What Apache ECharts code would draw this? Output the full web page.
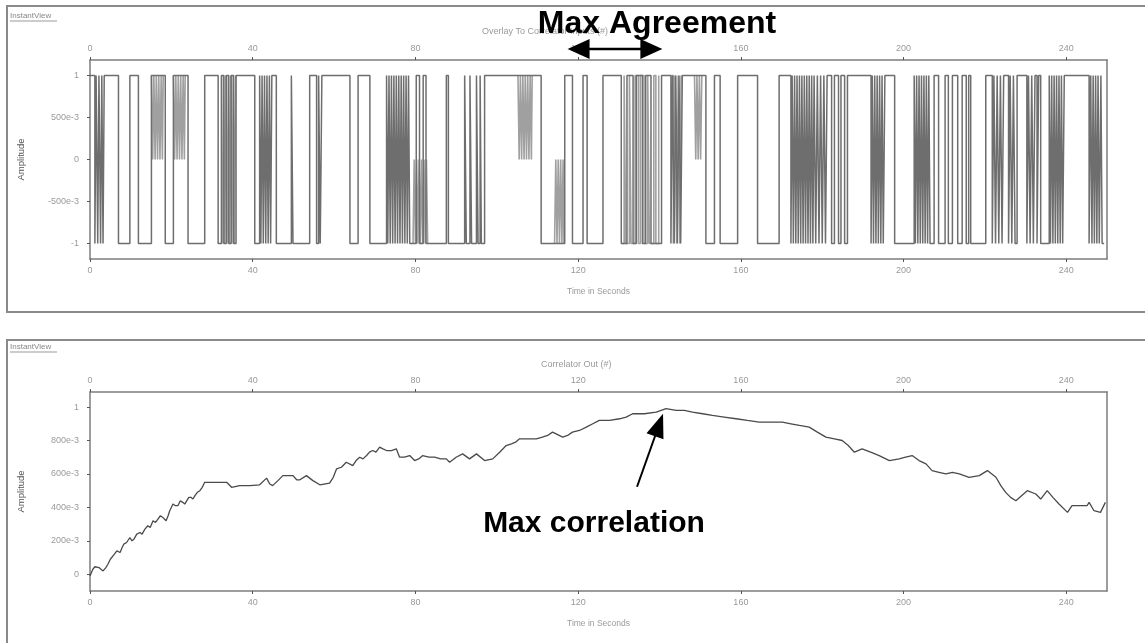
<!DOCTYPE html>
<html>
<head>
<meta charset="utf-8">
<script src="https://cdn.jsdelivr.net/npm/echarts@6/dist/echarts.min.js"></script>
<style>
  html, body { margin: 0; padding: 0; background: #fff; }
  #chart { width: 1145px; height: 643px; }
</style>
</head>
<body>
<div id="chart"></div>
<script>
// Shared time axis (seconds)
const timeTicks = [0, 40, 80, 120, 160, 200, 240];
const timeMax = 250;

// Overlay panel amplitude ticks
const overlayTicks = [-1, -0.5, 0, 0.5, 1];
const overlayTickLabels = ['-1', '-500e-3', '0', '500e-3', '1'];

// Correlator panel amplitude ticks
const corrTicks = [0, 0.2, 0.4, 0.6, 0.8, 1];
const corrTickLabels = ['0', '200e-3', '400e-3', '600e-3', '800e-3', '1'];

// Primary binary sequence: [time, level], held until the next point
const overlayA = [
  [0,1],[1.2,-1],[1.5,1],[1.9,-1],[2.2,1],[2.6,-1],[2.9,1],[3.2,-1],[3.5,1],
  [7.0,-1],[9.8,1],[11.9,-1],
  [15.1,1],[18.5,-1],
  [20.5,1],[24.1,-1],
  [28.2,1],[31.5,-1],
  [32.3,1],[32.9,-1],[33.5,1],[34.1,-1],[34.7,1],[35.3,-1],[35.9,1],
  [40.5,-1],
  [41.7,1],[42.0,-1],[42.3,1],[42.6,-1],[42.9,1],[43.2,-1],[43.5,1],[43.8,-1],[44.1,1],[44.4,-1],[44.7,1],
  [45.8,-1],[49.5,1],[49.9,-1],
  [54.0,1],[55.7,-1],[56.2,1],[56.6,-1],[57.0,1],
  [63.9,-1],[65.9,1],[68.8,-1],
  [72.9,1],[73.2,-1],[73.5,1],[73.8,-1],[74.1,1],[74.4,-1],[74.7,1],[75.0,-1],[75.3,1],[75.6,-1],
  [75.9,1],[76.2,-1],[76.5,1],[76.8,-1],[77.1,1],[77.4,-1],[77.7,1],[78.0,-1],[78.3,1],[78.6,-1],
  [80.2,1],[81.0,-1],[81.9,1],[82.6,-1],
  [87.6,1],[88.1,-1],
  [92.1,1],[92.5,-1],[93.4,1],[93.8,-1],[95.0,1],[95.4,-1],[95.9,1],[96.2,-1],
  [97.0,1],[110.9,-1],
  [116.7,1],[118.6,-1],[121.2,1],[122.2,-1],
  [126.1,1],[130.6,-1],[132.0,1],[133.5,-1],[134.3,1],[135.8,-1],[136.6,1],[137.9,-1],[140.5,1],
  [142.8,-1],[143.2,1],[143.6,-1],[144.0,1],[144.4,-1],[144.8,1],[145.2,-1],[145.6,1],
  [151.4,-1],[153.5,1],[154.9,-1],[159.2,1],[164.1,-1],[169.4,1],
  [172.3,-1],[172.6,1],[172.9,-1],[173.2,1],[173.5,-1],[173.8,1],[174.1,-1],[174.4,1],[174.7,-1],[175.0,1],
  [175.3,-1],[175.6,1],[175.9,-1],[176.2,1],[176.5,-1],[176.8,1],[177.1,-1],[177.4,1],[177.7,-1],[178.0,1],
  [178.4,-1],[178.8,1],[179.2,-1],[179.6,1],[180.0,-1],[180.4,1],[180.8,-1],[181.2,1],
  [182.3,-1],[183.0,1],[184.0,-1],[184.6,1],[185.5,-1],[186.2,1],
  [192.0,-1],[192.3,1],[192.6,-1],[192.9,1],[193.2,-1],[193.5,1],[193.8,-1],[194.1,1],[194.4,-1],[194.7,1],[195.0,-1],[195.4,1],
  [197.8,-1],
  [202.6,1],[202.9,-1],[203.2,1],[203.5,-1],[203.8,1],[204.1,-1],[204.4,1],[204.7,-1],[205.0,1],[205.3,-1],[205.6,1],[205.9,-1],[206.2,1],[206.5,-1],
  [207.5,1],[208.6,-1],[210.2,1],[211.0,-1],[212.0,1],[213.3,-1],[214.4,1],[215.4,-1],[216.0,1],[216.5,-1],
  [220.2,1],[221.8,-1],[222.2,1],[222.6,-1],[223.0,1],[223.4,-1],[223.8,1],[224.2,-1],[224.6,1],
  [225.8,-1],[226.2,1],[226.6,-1],[227.0,1],[227.4,-1],[227.9,1],
  [230.3,-1],[230.7,1],[231.1,-1],[231.5,1],[231.9,-1],[232.3,1],[232.8,-1],[233.2,1],
  [233.7,-1],[235.8,1],[236.1,-1],[236.4,1],[236.7,-1],[237.0,1],[237.3,-1],[237.6,1],[237.9,-1],[238.2,1],
  [238.5,-1],[238.8,1],[239.1,-1],[239.5,1],
  [245.6,-1],[246.0,1],[246.3,-1],[246.6,1],[246.9,-1],[247.2,1],[247.5,-1],[247.8,1],[248.1,-1],[248.5,1],[248.8,-1],[249.3,-1]
];

// Second sequence, drawn only where it departs from the first ('-' breaks the trace)
const overlayB = [
  [15.1,1],[15.4,0],[15.7,1],[16.0,0],[16.3,1],[16.6,0],[16.9,1],[17.2,0],[17.5,1],[17.8,0],[18.0,1],[18.1,'-'],
  [20.5,1],[20.8,0],[21.1,1],[21.4,0],[21.7,1],[22.0,0],[22.3,1],[22.6,0],[22.9,1],[23.2,0],[23.4,1],[23.5,'-'],
  [32.5,-1],[32.8,1],[33.1,-1],[33.4,1],[33.7,-1],[34.0,1],[34.3,-1],[34.6,1],[34.9,-1],[35.2,1],[35.5,-1],[35.8,1],[35.9,'-'],
  [79.4,-1],[79.7,0],[80.0,-1],[80.3,0],[80.6,-1],[80.9,0],[81.2,-1],[81.5,0],[81.8,-1],[82.1,0],[82.4,-1],[82.7,0],[83.0,-1],[83.1,'-'],
  [105.2,1],[105.5,0],[105.8,1],[106.1,0],[106.4,1],[106.7,0],[107.0,1],[107.3,0],[107.6,1],[107.9,0],[108.2,1],[108.5,0],[108.7,1],[108.8,'-'],
  [114.2,-1],[114.5,0],[114.8,-1],[115.1,0],[115.4,-1],[115.7,0],[116.0,-1],[116.3,0],[116.5,-1],[116.6,'-'],
  [130.8,-1],[131.3,1],[131.7,-1],[132.6,1],[133.0,-1],[134.0,1],[134.8,-1],[135.3,1],[136.2,-1],[137.1,1],[137.5,-1],[138.6,1],[139.1,-1],[139.8,1],[139.9,'-'],
  [142.9,1],[143.4,-1],[143.8,1],[144.2,-1],[144.6,1],[145.0,-1],[145.3,1],[145.4,'-'],
  [148.6,1],[148.9,0],[149.2,1],[149.5,0],[149.8,1],[150.1,0],[150.4,1]
];

// Correlator output: [time, amplitude]
const correlation = [
  [0,-0.01],[0.7,0.03],[1.2,0.045],[2.2,0.04],[3.2,0.02],[3.9,0.04],[4.4,0.06],[5.0,0.09],[5.4,0.10],
  [6.0,0.12],[6.6,0.14],[7.4,0.13],[7.9,0.16],[8.3,0.18],[9.0,0.19],[9.8,0.22],[10.3,0.20],[10.8,0.21],
  [11.5,0.24],[12.3,0.25],[12.8,0.24],[13.5,0.27],[14.2,0.29],[14.8,0.28],[15.5,0.32],[16.1,0.31],
  [16.7,0.33],[17.3,0.35],[17.9,0.34],[18.7,0.32],[19.2,0.35],[19.6,0.38],[20.4,0.42],[21.0,0.41],
  [21.6,0.41],[22.2,0.44],[22.8,0.43],[23.3,0.42],[23.8,0.44],[24.3,0.46],[24.8,0.46],[25.3,0.45],
  [25.8,0.47],[26.4,0.49],[27.0,0.50],[27.6,0.52],[28.2,0.55],[30.7,0.55],[33.6,0.55],[34.8,0.52],
  [36.8,0.53],[39.3,0.53],[41.7,0.535],[43.4,0.575],[44.2,0.54],[44.9,0.53],[46.2,0.56],[47.4,0.59],
  [49.1,0.59],[49.9,0.59],[50.8,0.565],[51.6,0.565],[53.2,0.59],[54.8,0.56],[56.5,0.535],[58.9,0.545],
  [59.8,0.58],[60.6,0.63],[61.8,0.64],[63.0,0.67],[64.6,0.65],[65.4,0.68],[66.3,0.70],[67.1,0.69],
  [68.0,0.71],[68.7,0.73],[69.5,0.74],[70.3,0.73],[71.2,0.76],[72.0,0.75],[72.9,0.74],[74.1,0.74],
  [75.3,0.75],[76.1,0.70],[77.3,0.70],[78.6,0.71],[79.8,0.68],[80.8,0.69],[81.8,0.71],[83.3,0.70],
  [84.7,0.70],[86.2,0.69],[87.6,0.69],[88.4,0.67],[90.0,0.70],[91.6,0.72],[93.3,0.69],[95.0,0.72],
  [97.0,0.68],[99.0,0.69],[100.7,0.73],[102.3,0.77],[103.6,0.78],[104.6,0.79],[105.6,0.81],[108.1,0.81],
  [109.7,0.81],[111.2,0.82],[112.5,0.83],[113.7,0.85],[116.2,0.82],[117.4,0.83],[118.6,0.85],[120.3,0.86],
  [122.0,0.88],[123.6,0.90],[125.2,0.92],[127.7,0.92],[130.2,0.93],[131.8,0.94],[133.4,0.96],[136.3,0.96],
  [139.2,0.97],[141.6,0.99],[144.1,0.98],[146.1,0.98],[148.1,0.97],[150.6,0.96],[153.0,0.95],[155.9,0.94],
  [158.8,0.93],[161.6,0.92],[164.5,0.91],[167.3,0.91],[170.2,0.91],[172.3,0.90],[174.4,0.89],[176.8,0.88],
  [178.8,0.85],[180.9,0.82],[183.0,0.81],[184.9,0.80],[186.4,0.77],[187.9,0.73],[189.8,0.75],[191.9,0.73],
  [194.0,0.71],[196.5,0.68],[198.9,0.69],[200.5,0.70],[202.1,0.71],[203.8,0.68],[205.5,0.66],[207.0,0.62],
  [208.7,0.61],[210.4,0.60],[212.0,0.61],[213.7,0.60],[216.1,0.58],[218.6,0.59],[220.6,0.62],[222.7,0.58],
  [223.9,0.53],[225.1,0.49],[226.3,0.46],[227.6,0.44],[229.0,0.47],[230.4,0.50],[232.5,0.48],[233.7,0.45],
  [235.3,0.50],[236.7,0.46],[238.2,0.42],[240.3,0.37],[241.4,0.41],[243.2,0.41],[245.1,0.41],[245.6,0.43],
  [246.8,0.38],[248.4,0.37],[249.6,0.43]
];

const FONT = '"Liberation Sans", Arial, sans-serif';
const TICK_COLOR = '#9a9a9a';
const AXIS_COLOR = '#7d7d7d';

function labelFrom(ticks, labels) {
  return function (v) {
    const i = ticks.findIndex(t => Math.abs(t - v) < 1e-9);
    return i >= 0 ? labels[i] : '';
  };
}

function timeAxis(gridIndex, position, withName) {
  return {
    type: 'value', gridIndex, position, min: 0, max: timeMax,
    name: withName ? 'Time in Seconds' : '',
    nameLocation: 'middle', nameGap: 28,
    nameTextStyle: { fontFamily: FONT, fontSize: 8.5, color: TICK_COLOR },
    axisLine: { show: true, onZero: false, lineStyle: { color: AXIS_COLOR, width: 1.5 } },
    axisTick: { show: true, customValues: timeTicks, length: 3, lineStyle: { color: '#555' } },
    axisLabel: { show: true, customValues: timeTicks, fontFamily: FONT, fontSize: 9, color: TICK_COLOR, margin: 7 },
    splitLine: { show: false }
  };
}

function ampAxis(gridIndex, min, max, ticks, labels) {
  return {
    type: 'value', gridIndex, position: 'left', min, max,
    name: 'Amplitude', nameLocation: 'middle', nameGap: 64, nameRotate: 90,
    nameTextStyle: { fontFamily: FONT, fontSize: 9.5, color: '#555' },
    axisLine: { show: true, onZero: false, lineStyle: { color: AXIS_COLOR, width: 1.5 } },
    axisTick: { show: true, customValues: ticks, length: 3, lineStyle: { color: '#555' } },
    axisLabel: { show: true, customValues: ticks, formatter: labelFrom(ticks, labels),
                 fontFamily: FONT, fontSize: 9, color: TICK_COLOR, margin: 11 },
    splitLine: { show: false }
  };
}

function borderAxis(gridIndex, min, max) {
  return {
    type: 'value', gridIndex, position: 'right', min, max,
    axisLine: { show: true, onZero: false, lineStyle: { color: AXIS_COLOR, width: 1.5 } },
    axisTick: { show: false }, axisLabel: { show: false }, splitLine: { show: false }
  };
}

const chart = echarts.init(document.getElementById('chart'), null, { renderer: 'canvas' });

const option = {
  animation: false,
  backgroundColor: '#fff',
  title: [
    { text: 'Overlay To Correlator Inputs (#)', left: 477, top: 22,
      textStyle: { fontFamily: FONT, fontSize: 9, fontWeight: 'normal', color: TICK_COLOR } },
    { text: 'Correlator Out (#)', left: 536, top: 355,
      textStyle: { fontFamily: FONT, fontSize: 9, fontWeight: 'normal', color: TICK_COLOR } }
  ],
  grid: [
    { left: 90, right: 38, top: 60, height: 199 },
    { left: 90, right: 38, top: 392, height: 199 }
  ],
  xAxis: [
    timeAxis(0, 'bottom', true),
    timeAxis(0, 'top', false),
    timeAxis(1, 'bottom', true),
    timeAxis(1, 'top', false)
  ],
  yAxis: [
    ampAxis(0, -1.185, 1.185, overlayTicks, overlayTickLabels),
    borderAxis(0, -1.185, 1.185),
    ampAxis(1, -0.1, 1.09, corrTicks, corrTickLabels),
    borderAxis(1, -0.1, 1.09)
  ],
  series: [
    { name: 'Sequence B', type: 'line', xAxisIndex: 0, yAxisIndex: 0, step: 'end',
      data: overlayB, showSymbol: false, connectNulls: false, z: 2,
      lineStyle: { color: '#a0a0a0', width: 1.6 } },
    { name: 'Sequence A', type: 'line', xAxisIndex: 0, yAxisIndex: 0, step: 'end',
      data: overlayA, showSymbol: false, z: 3,
      lineStyle: { color: '#6e6e6e', width: 1.5 } },
    { name: 'Correlator Out', type: 'line', xAxisIndex: 2, yAxisIndex: 2,
      data: correlation, showSymbol: false, z: 3,
      lineStyle: { color: '#4a4a4a', width: 1.3 } }
  ]
};

chart.setOption(option);

// Panel frames, panel captions and callouts
function arrowHead(tip, from, len, half) {
  const dx = tip[0] - from[0], dy = tip[1] - from[1];
  const d = Math.hypot(dx, dy), ux = dx / d, uy = dy / d;
  const bx = tip[0] - ux * len, by = tip[1] - uy * len;
  return [tip, [bx - uy * half, by + ux * half], [bx + uy * half, by - ux * half]];
}

const agreeStart = 117.4, agreeEnd = 140.7;
const xL = chart.convertToPixel({ xAxisIndex: 1 }, agreeStart);
const xR = chart.convertToPixel({ xAxisIndex: 1 }, agreeEnd);
const arrowY = 49;

let peak = correlation[0];
correlation.forEach(p => { if (p[1] > peak[1]) peak = p; });
const peakPx = chart.convertToPixel({ xAxisIndex: 2, yAxisIndex: 2 }, peak);
const tip = [peakPx[0] - 3, peakPx[1] + 5];
const tail = [tip[0] - 26, tip[1] + 73];

const graphic = [
  { type: 'rect', shape: { x: 7, y: 6, width: 1150, height: 306 },
    style: { fill: 'none', stroke: '#8a8a8a', lineWidth: 2 }, silent: true },
  { type: 'rect', shape: { x: 7, y: 340, width: 1150, height: 310 },
    style: { fill: 'none', stroke: '#8a8a8a', lineWidth: 2 }, silent: true },
  { type: 'text', x: 10, y: 12, style: { text: 'InstantView', font: '8px ' + FONT, fill: '#888' } },
  { type: 'line', shape: { x1: 10, y1: 21, x2: 57, y2: 21 }, style: { stroke: '#999', lineWidth: 1 } },
  { type: 'text', x: 10, y: 343, style: { text: 'InstantView', font: '8px ' + FONT, fill: '#888' } },
  { type: 'line', shape: { x1: 10, y1: 352, x2: 57, y2: 352 }, style: { stroke: '#999', lineWidth: 1 } },

  { type: 'text', x: 657, y: 24, z: 10,
    style: { text: 'Max Agreement', font: 'bold 32px ' + FONT, fill: '#000', textAlign: 'center', textVerticalAlign: 'middle' } },
  { type: 'line', z: 10, shape: { x1: xL + 18, y1: arrowY, x2: xR - 18, y2: arrowY },
    style: { stroke: '#000', lineWidth: 2.5 } },
  { type: 'polygon', z: 10, shape: { points: arrowHead([xL, arrowY], [xR, arrowY], 22, 10) }, style: { fill: '#000' } },
  { type: 'polygon', z: 10, shape: { points: arrowHead([xR, arrowY], [xL, arrowY], 22, 10) }, style: { fill: '#000' } },

  { type: 'text', x: 594, y: 524, z: 10,
    style: { text: 'Max correlation', font: 'bold 30px ' + FONT, fill: '#000', textAlign: 'center', textVerticalAlign: 'middle' } },
  { type: 'line', z: 10, shape: { x1: tail[0], y1: tail[1], x2: tip[0] - 5, y2: tip[1] + 14 },
    style: { stroke: '#000', lineWidth: 2 } },
  { type: 'polygon', z: 10, shape: { points: arrowHead(tip, tail, 24, 9) }, style: { fill: '#000' } }
];

chart.setOption({ graphic });
</script>
</body>
</html>
